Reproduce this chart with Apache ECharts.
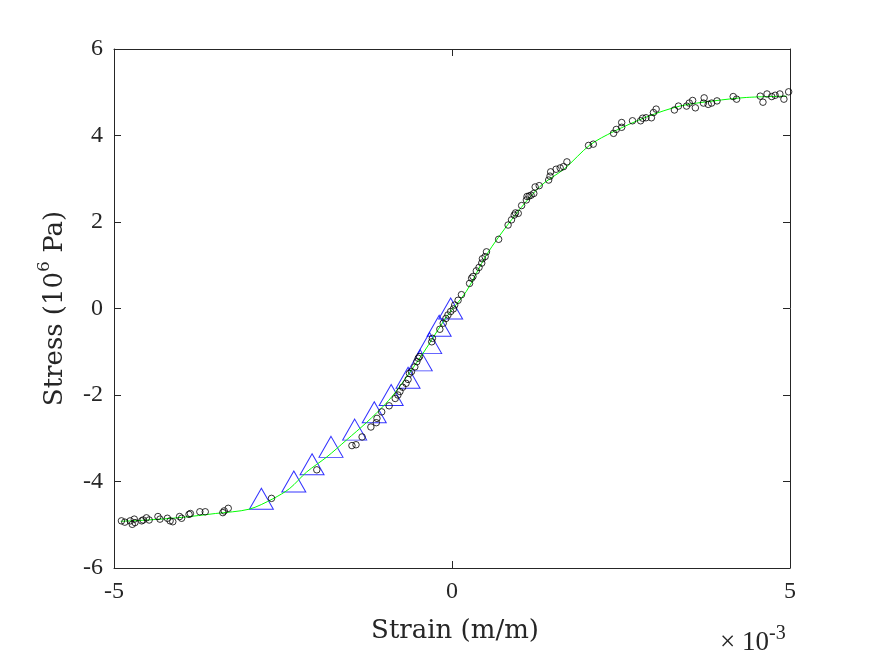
<!DOCTYPE html>
<html><head><meta charset="utf-8">
<script src="https://cdn.jsdelivr.net/npm/echarts@6/dist/echarts.min.js"></script>
<style>html,body{margin:0;padding:0;background:#fff}#c{width:875px;height:656px}</style>
</head><body><div id="c"></div>
<script>
// strain in units of 1e-3 m/m, stress in units of 1e6 Pa
const xTicks = [-5, 0, 5];
const yTicks = [-6, -4, -2, 0, 2, 4, 6];

const circleStrain = [-4.89,-4.84,-4.76,-4.73,-4.70,-4.69,-4.59,-4.57,-4.52,-4.48,-4.35,-4.32,-4.21,-4.17,-4.13,-4.03,-4.00,-3.89,-3.87,-3.73,-3.65,-3.39,-3.37,-3.31,
 -2.67,-2.00,-1.48,-1.42,-1.33,-1.20,-1.12,-1.11,-1.04,-0.93,-0.84,-0.80,-0.77,-0.73,-0.68,-0.65,-0.63,-0.60,-0.55,-0.52,-0.50,-0.48,-0.30,-0.29,-0.18,-0.13,-0.09,-0.06,-0.02,0.02,
 0.04,0.09,0.14,0.26,0.29,0.31,0.36,0.40,0.44,0.45,0.49,0.51,0.69,0.83,0.88,0.92,0.94,0.98,1.03,1.10,1.11,1.14,1.17,1.21,1.23,1.29,1.43,1.45,1.46,1.54,1.60,1.65,1.70,
 2.02,2.09,2.39,2.43,2.51,2.51,2.67,2.79,2.82,2.87,2.95,2.98,3.02,3.29,3.35,3.47,3.51,3.56,3.60,3.72,3.73,3.79,3.84,3.92,4.16,4.21,4.56,4.60,4.66,4.73,4.78,4.85,4.91,4.98];
const circleStress = [-4.91,-4.94,-4.91,-4.99,-4.87,-4.95,-4.91,-4.89,-4.84,-4.89,-4.81,-4.87,-4.85,-4.91,-4.93,-4.81,-4.85,-4.76,-4.74,-4.70,-4.70,-4.72,-4.68,-4.62,
 -4.39,-3.73,-3.17,-3.15,-2.97,-2.74,-2.64,-2.54,-2.39,-2.25,-2.08,-2.00,-1.92,-1.82,-1.73,-1.64,-1.50,-1.46,-1.35,-1.23,-1.15,-1.11,-0.77,-0.69,-0.48,-0.34,-0.23,-0.15,-0.07,-0.01,
 0.08,0.19,0.32,0.58,0.70,0.74,0.87,0.95,1.05,1.15,1.20,1.31,1.60,1.93,2.05,2.16,2.21,2.20,2.38,2.51,2.59,2.60,2.62,2.66,2.81,2.84,2.97,3.06,3.16,3.22,3.25,3.28,3.39,
 3.77,3.80,4.05,4.14,4.19,4.30,4.34,4.34,4.40,4.41,4.41,4.53,4.61,4.59,4.68,4.68,4.75,4.81,4.64,4.75,4.87,4.72,4.75,4.80,4.90,4.84,4.91,4.77,4.96,4.90,4.93,4.96,4.84,5.01];

const triStrain = [-2.82,-2.34,-2.07,-1.79,-1.44,-1.15,-0.90,-0.65,-0.47,-0.33,-0.19,-0.02];
const triStress = [-4.4,-4.0,-3.6,-3.2,-2.8,-2.4,-2.0,-1.6,-1.2,-0.8,-0.4,0.0];

const fitStrain = [-4.90,-4.50,-4.00,-3.50,-3.00,-2.65,-2.40,-2.15,-1.85,-1.56,-1.26,-0.98,-0.80,-0.43,-0.08,0.21,0.51,0.88,1.30,1.67,2.04,2.39,2.88,3.37,3.87,4.36,4.95];
const fitStress = [-4.92,-4.89,-4.83,-4.74,-4.64,-4.40,-4.16,-3.78,-3.43,-3.04,-2.63,-2.20,-1.86,-1.04,-0.19,0.39,1.24,2.05,2.82,3.24,3.78,4.09,4.43,4.68,4.80,4.88,4.91];

const zip = (a, b) => a.map((v, i) => [v, b[i]]);
const ink = '#262626';
const font = 'Liberation Serif';
const texFont = 'DejaVu Serif';

const chart = echarts.init(document.getElementById('c'));
const axisCommon = {
  type: 'value',
  axisLine: { show: true, onZero: false, lineStyle: { color: ink, width: 1 } },
  axisTick: { show: true, inside: true, length: 7, lineStyle: { color: ink, width: 1 } },
  splitLine: { show: false }
};
chart.setOption({
  animation: false,
  grid: { left: 114, right: 85, top: 49, bottom: 88 },
  xAxis: [
    Object.assign({}, axisCommon, {
      min: xTicks[0], max: xTicks[xTicks.length - 1], interval: 5, position: 'bottom',
      axisLabel: { color: ink, fontFamily: font, fontSize: 24, margin: 12 },
      name: 'Strain (m/m)', nameLocation: 'middle', nameGap: 50,
      nameTextStyle: { color: ink, fontFamily: texFont, fontSize: 26, padding: [0, 0, 0, 6] }
    }),
    Object.assign({}, axisCommon, {
      min: xTicks[0], max: xTicks[xTicks.length - 1], interval: 5, position: 'top',
      axisLabel: { show: false }
    })
  ],
  yAxis: [
    Object.assign({}, axisCommon, {
      min: yTicks[0], max: yTicks[yTicks.length - 1], interval: 2, position: 'left',
      axisLabel: { color: ink, fontFamily: font, fontSize: 24, margin: 11 },
      name: '{a|Stress (10}{s|6}{a| Pa)}', nameLocation: 'middle', nameGap: 46, nameRotate: 90,
      nameTextStyle: { color: ink, fontFamily: texFont, fontSize: 26,
        rich: { a: { fontFamily: texFont, fontSize: 26, color: ink, verticalAlign: 'bottom', lineHeight: 32 },
                s: { fontFamily: texFont, fontSize: 17, color: ink, verticalAlign: 'top', lineHeight: 32 } } }
    }),
    Object.assign({}, axisCommon, {
      min: yTicks[0], max: yTicks[yTicks.length - 1], interval: 2, position: 'right',
      axisLabel: { show: false }
    })
  ],
  graphic: [{
    type: 'text', left: 720, top: 624,
    style: {
      text: '{a|× 10}{s|-3}',
      rich: { a: { fontFamily: font, fontSize: 27, fill: ink, verticalAlign: 'bottom', lineHeight: 32 },
              s: { fontFamily: font, fontSize: 20, fill: ink, verticalAlign: 'top', lineHeight: 32 } }
    }
  }],
  series: [
    { type: 'scatter', name: 'tri', data: zip(triStrain, triStress), symbol: 'triangle', symbolSize: [24, 21],
      itemStyle: { color: 'rgba(0,0,0,0)', borderColor: '#0000ff', borderWidth: 1 }, z: 2 },
    { type: 'line', name: 'fit', data: zip(fitStrain, fitStress), smooth: 0.3, showSymbol: false, symbol: 'none',
      lineStyle: { color: '#00ff00', width: 1 }, z: 3 },
    { type: 'scatter', name: 'data', data: zip(circleStrain, circleStress), symbol: 'circle', symbolSize: 6.5,
      itemStyle: { color: 'rgba(0,0,0,0)', borderColor: '#000', borderWidth: 1 }, z: 4 }
  ]
});
</script></body></html>
